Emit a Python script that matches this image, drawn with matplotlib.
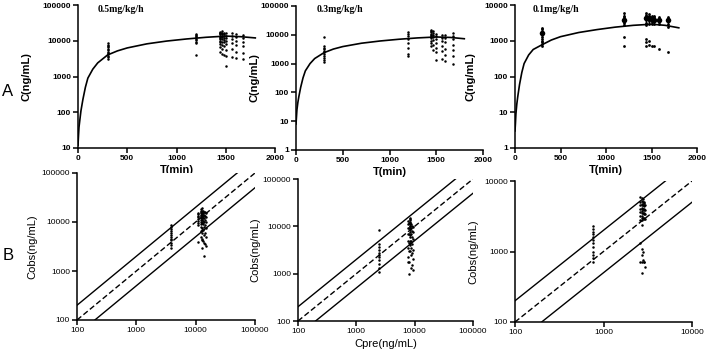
import numpy as np
import matplotlib.pyplot as plt
from matplotlib.ticker import FixedLocator, NullLocator

plt.rcParams['font.family'] = ['Liberation Sans', 'DejaVu Sans']

# ---- fitted curves (time in min, conc in ng/mL)
t_curve = [0, 5, 10, 20, 30, 50, 75, 100, 150, 200, 300, 400, 500, 700, 900, 1100, 1300, 1500, 1650, 1800]
c_curve_05 = [12, 22, 38, 65, 110, 230, 500, 900, 1600, 2400, 4000, 5200, 6300, 8200, 9800, 11200, 12500, 13500, 13000, 12000]
c_curve_03 = [8, 14, 25, 45, 70, 150, 320, 560, 1000, 1500, 2400, 3200, 3900, 5100, 6100, 7000, 7800, 8400, 8100, 7300]
c_curve_01 = [3, 5, 9, 17, 27, 60, 130, 230, 400, 570, 780, 1050, 1300, 1700, 2050, 2400, 2700, 2900, 2700, 2300]

# ---- observed concentrations per sampling time
obs_05 = {
    300: [3000, 3400, 3800, 4200, 4600, 5000, 5500, 6000, 6600, 7200, 7800, 8500],
    1200: [3900, 8500, 9500, 10500, 11500, 12500, 13500, 14500, 15500],
    1440: [5000, 6500, 8000, 9000, 10000, 11000, 12000, 13000, 14000, 15000, 16000, 17000, 18000],
    1460: [4200, 6000, 7500, 9500, 11000, 12500, 14000, 15500, 17000, 19000],
    1480: [4000, 7000, 9000, 10500, 12000, 13500, 15000, 16500],
    1500: [2000, 3800, 5500, 8000, 10000, 12000, 14000, 16000],
    1560: [3500, 6000, 8500, 11000, 13500, 16000],
    1600: [3200, 5000, 7500, 10000, 12500, 15000],
    1680: [3000, 4500, 7000, 9500, 12000, 14500],
}
obs_03 = {
    300: [1100, 1300, 1600, 1900, 2200, 2500, 2800, 3200, 3600, 4200, 8500],
    1200: [1800, 2200, 3500, 5000, 7000, 9000, 11000, 13000],
    1440: [4000, 5000, 6000, 7500, 9000, 10000, 11000, 12500, 14000, 15000],
    1460: [3000, 4500, 6500, 8500, 10000, 12000, 13500],
    1500: [1300, 2500, 3500, 5000, 7000, 9000, 11000],
    1560: [1500, 2800, 4200, 6000, 8000, 10000],
    1590: [1200, 2000, 3200, 5500, 7500, 9500],
    1680: [1000, 1800, 3000, 4500, 7000, 9000, 11500],
}
obs_01 = {
    300: [700, 800, 900, 1000, 1150, 1300, 1450, 1600, 1750, 1900, 2100, 2300],
    1200: [700, 1300, 2800, 3200, 3600, 4000, 4500, 5000, 6000],
    1440: [700, 900, 1100, 2800, 3200, 3700, 4200, 4700, 5200, 5800],
    1470: [750, 1000, 3000, 3500, 4000, 4500, 5000, 5500],
    1500: [700, 2900, 3400, 3900, 4400, 4900],
    1530: [700, 3000, 3500, 4000, 4500, 5000],
    1580: [600, 2900, 3400, 3900, 4500],
    1680: [500, 2400, 3000, 3500, 4000, 4600],
}
mean_01 = {300: 1600, 1200: 3800, 1440: 4300, 1470: 4200, 1500: 4000, 1530: 3900, 1580: 3900, 1680: 3800}

# ---- predicted concentration for each sampling time (x of panel B)
pred_05 = {300: 3800, 1200: 11000, 1440: 12500, 1460: 13000, 1480: 13500, 1500: 14000, 1560: 14500, 1600: 15000, 1680: 13000}
pred_03 = {300: 2400, 1200: 7800, 1440: 8200, 1460: 8400, 1500: 8600, 1560: 9000, 1590: 9300, 1680: 8000}
pred_01 = {300: 760, 1200: 2600, 1440: 2750, 1470: 2800, 1500: 2850, 1530: 2900, 1580: 2950, 1680: 2700}

fold = [0.5, 1, 2]
titles = ['0.5mg/kg/h', '0.3mg/kg/h', '0.1mg/kg/h']

W, H = 709, 356
fig = plt.figure(figsize=(W / 100, H / 100), dpi=100)


def add_ax(x0, x1, ytop, ybot):
    return fig.add_axes([x0 / W, 1 - ybot / H, (x1 - x0) / W, (ybot - ytop) / H])


def prism(ax, weight):
    for s in ['top', 'right']:
        ax.spines[s].set_visible(False)
    for s in ['left', 'bottom']:
        ax.spines[s].set_linewidth(1.1)
    ax.tick_params(direction='out', length=3.5, width=1.1, labelsize=6, pad=1.5)
    for lab in ax.get_xticklabels() + ax.get_yticklabels():
        lab.set_fontweight(weight)
    ax.yaxis.set_minor_locator(NullLocator())
    ax.xaxis.set_minor_locator(NullLocator())


def log_ticks(axis, vals):
    axis.set_major_locator(FixedLocator(vals))
    axis.set_ticklabels([str(v) for v in vals])


# ---- row A: concentration-time
a_pos = [(78, 275, 5, 148), (296, 483, 6, 150), (515, 697, 5, 148)]
a_ylim = [(10, 100000), (1, 100000), (1, 10000)]
curves = [c_curve_05, c_curve_03, c_curve_01]
obs_all = [obs_05, obs_03, obs_01]
a_ylab_x = [32, 259, 476]
title_dx = [20, 21, 18]

for i in range(3):
    x0, x1, yt, yb = a_pos[i]
    ax = add_ax(x0, x1, yt, yb)
    ax.plot(t_curve, curves[i], color='black', lw=1.2, zorder=3)
    msize = 2.0 if i == 2 else 1.8
    for t, vals in obs_all[i].items():
        ax.plot([t] * len(vals), vals, 'o', color='black', ms=msize, mew=0, zorder=4)
    if i == 2:
        for t, vals in obs_01.items():
            hi = [v for v in vals if v > 2000]
            ax.vlines(t, min(hi), max(hi), color='black', lw=0.9, zorder=4)
        ax.plot(list(mean_01.keys()), list(mean_01.values()), 'o', color='black', ms=4, mew=0, zorder=5)
    ax.set_yscale('log')
    ax.set_xlim(0, 2000)
    ax.set_ylim(*a_ylim[i])
    ax.set_xticks([0, 500, 1000, 1500, 2000])
    lo, hi = a_ylim[i]
    log_ticks(ax.yaxis, [10 ** k for k in range(int(np.log10(lo)), int(np.log10(hi)) + 1)])
    prism(ax, 'bold')
    ax.set_xlabel('T(min)', fontsize=8, fontweight='bold', labelpad=2)
    ax.set_ylabel('C(ng/mL)', fontsize=8, fontweight='bold')
    ax.yaxis.set_label_coords((a_ylab_x[i] - x0) / (x1 - x0), 0.5)
    fig.text((x0 + title_dx[i]) / W, 1 - 9.5 / H, titles[i], fontsize=7, fontweight='bold',
             family='Liberation Serif', va='center', ha='left')

# ---- row B: observed vs predicted
b_pos = [(77, 255, 173, 320), (298, 473, 179, 321), (515, 692, 181, 322)]
b_lim = [(100, 100000), (100, 100000), (100, 10000)]
preds = [pred_05, pred_03, pred_01]
b_ylab_x = [37, 260, 478]

for i in range(3):
    x0, x1, yt, yb = b_pos[i]
    ax = add_ax(x0, x1, yt, yb)
    lo, hi = b_lim[i]
    for f in fold:
        if f == 1:
            ax.plot([lo, hi], [lo, hi], color='black', lw=1.0, ls=(0, (4, 2)), zorder=2)
        else:
            ax.plot([lo, hi], [lo * f, hi * f], color='black', lw=1.0, zorder=2)
    for t, vals in obs_all[i].items():
        ax.plot([preds[i][t]] * len(vals), vals, 'o', color='black', ms=1.8, mew=0, zorder=4)
    ax.set_xscale('log')
    ax.set_yscale('log')
    ax.set_xlim(lo, hi)
    ax.set_ylim(lo, hi)
    ticks = [10 ** k for k in range(int(np.log10(lo)), int(np.log10(hi)) + 1)]
    log_ticks(ax.xaxis, ticks)
    log_ticks(ax.yaxis, ticks)
    prism(ax, 'normal')
    ax.set_ylabel('Cobs(ng/mL)', fontsize=8)
    ax.yaxis.set_label_coords((b_ylab_x[i] - x0) / (x1 - x0), 0.5)
    if i == 1:
        ax.set_xlabel('Cpre(ng/mL)', fontsize=8, labelpad=3)

fig.text(8 / W, 1 - 91 / H, 'A', fontsize=12, ha='center', va='center')
fig.text(8 / W, 1 - 256 / H, 'B', fontsize=12, ha='center', va='center')

fig.savefig('out.png', dpi=100)
